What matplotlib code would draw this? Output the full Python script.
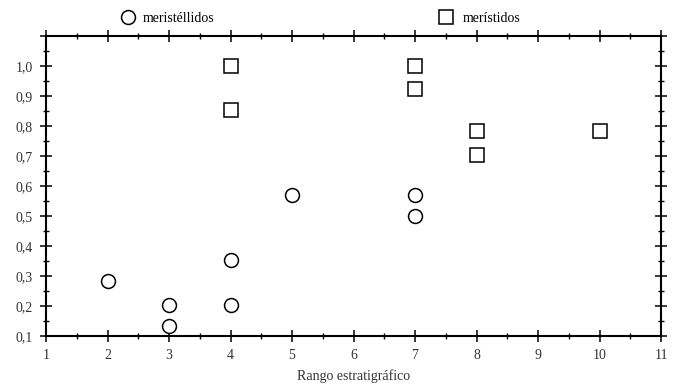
import matplotlib.pyplot as plt
from matplotlib.ticker import MultipleLocator, FuncFormatter

plt.rcParams['font.family'] = ['Liberation Serif', 'DejaVu Serif']

# meristéllidos (círculos)
meristellidos_x = [2, 3, 3, 4, 4, 5, 7, 7]
meristellidos_y = [0.285, 0.205, 0.135, 0.355, 0.205, 0.57, 0.57, 0.50]

# merístidos (cuadrados)
meristidos_x = [4, 4, 7, 7, 8, 8, 10]
meristidos_y = [1.0, 0.855, 1.0, 0.925, 0.785, 0.705, 0.785]

fig = plt.figure(figsize=(6.78, 3.85), dpi=100)
ax = fig.add_axes([46 / 678, 49 / 385, 615 / 678, 300 / 385])

c, = ax.plot(meristellidos_x, meristellidos_y, 'o', ms=10, mfc='white', mec='black',
             mew=1.1, linestyle='none')
s, = ax.plot(meristidos_x, meristidos_y, 's', ms=10, mfc='white', mec='black',
             mew=1.1, linestyle='none')

ax.set_xlim(1, 11)
ax.set_ylim(0.1, 1.1)
ax.xaxis.set_major_locator(MultipleLocator(1))
ax.xaxis.set_minor_locator(MultipleLocator(0.5))
ax.yaxis.set_major_locator(MultipleLocator(0.1))
ax.yaxis.set_minor_locator(MultipleLocator(0.05))
ax.yaxis.set_major_formatter(FuncFormatter(lambda v, _: f"{v:.1f}".replace('.', ',') if v < 1.05 else ""))

ax.tick_params(which='both', direction='inout', top=True, right=True, color='black',
               labelsize=10, labelcolor='#333333')
ax.tick_params(which='major', length=9, width=1.1)
ax.tick_params(which='minor', length=5, width=1.0)
ax.tick_params(axis='x', pad=5)
ax.tick_params(axis='y', pad=5)
for sp in ax.spines.values():
    sp.set_linewidth(1.5)

ax.set_xlabel("Rango estratigráfico", fontsize=10, color='#333333', labelpad=5)

fig.legend([c], ["meristéllidos"], loc='center left', bbox_to_anchor=(120 / 678, 1 - 18 / 385),
           frameon=False, fontsize=10, handlelength=1.2, handletextpad=0.4,
           borderpad=0, borderaxespad=0)
fig.legend([s], ["merístidos"], loc='center left', bbox_to_anchor=(438 / 678, 1 - 18 / 385),
           frameon=False, fontsize=10, handlelength=1.2, handletextpad=0.6,
           borderpad=0, borderaxespad=0)

plt.savefig("out.png", dpi=100)
